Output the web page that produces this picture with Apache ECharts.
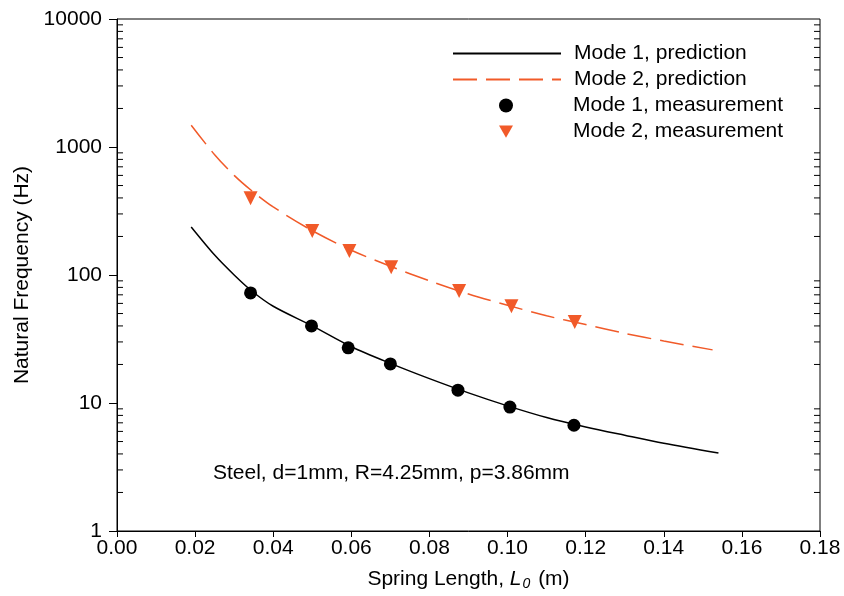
<!DOCTYPE html>
<html>
<head>
<meta charset="utf-8">
<script src="https://cdn.jsdelivr.net/npm/echarts@6/dist/echarts.min.js"></script>
<style>
  html, body { margin: 0; padding: 0; background: #fff; }
  #chart { width: 844px; height: 596px; }
</style>
</head>
<body>
<div id="chart"></div>
<script>
// spring length (m) for the prediction curves
var predLength1 = [0.019, 0.025, 0.03, 0.0345, 0.04, 0.05, 0.06, 0.07, 0.08, 0.09, 0.10, 0.11, 0.12, 0.13, 0.14, 0.154];
var predMode1 = [237, 143, 100, 75, 57, 40, 27.5, 20.4, 15.5, 12.0, 9.5, 7.7, 6.5, 5.6, 4.85, 4.07];
var predLength2 = [0.019, 0.025, 0.03, 0.0345, 0.04, 0.05, 0.06, 0.07, 0.08, 0.09, 0.10, 0.11, 0.12, 0.13, 0.14, 0.1525];
var predMode2 = [1480, 870, 600, 455, 340, 222, 156, 117, 90, 71, 58, 48, 41, 35, 30.5, 26];

// measurements
var measLength1 = [0.0342, 0.0498, 0.0592, 0.0700, 0.0873, 0.1006, 0.1170];
var measMode1 = [72.5, 40, 27, 20.2, 12.6, 9.3, 6.7];
var measLength2 = [0.0342, 0.0500, 0.0595, 0.0702, 0.0876, 0.1010, 0.1172];
var measMode2 = [398, 221, 154, 115, 75, 57, 43];

var xMin = 0, xMax = 0.18;
var minorVals = [];
[1, 10, 100, 1000].forEach(function (d) {
  for (var k = 2; k <= 9; k++) minorVals.push(k * d);
});

function pairs(xs, ys) {
  return xs.map(function (x, i) { return [x, ys[i]]; });
}

var font = "'Liberation Sans', Arial, sans-serif";
var fs = 21;
var orange = '#f15a29';
var hideSym = { color: 'rgba(0,0,0,0)', borderWidth: 0 };

var chart = echarts.init(document.getElementById('chart'));
chart.setOption({
  animation: false,
  textStyle: { fontFamily: font },
  grid: {
    left: 117, right: 24, top: 19, bottom: 65,
    show: true, borderColor: '#000', borderWidth: 1, backgroundColor: 'transparent'
  },
  legend: [{
    orient: 'vertical',
    left: 447, top: 38,
    itemWidth: 108, itemHeight: 14, itemGap: 5,
    data: [
      { name: 'Mode 1, prediction', itemStyle: hideSym },
      { name: 'Mode 2, prediction', itemStyle: hideSym }
    ],
    textStyle: { fontSize: fs, color: '#000', fontFamily: font, padding: [0, 0, 0, 8] }
  }, {
    orient: 'vertical',
    left: 494, top: 90,
    itemWidth: 14, itemHeight: 14, itemGap: 5,
    data: [
      { name: 'Mode 1, measurement', icon: 'circle' },
      { name: 'Mode 2, measurement', icon: 'path://M0,0 L2,0 L1,1.75 Z' }
    ],
    textStyle: { fontSize: fs, color: '#000', fontFamily: font, padding: [0, 0, 0, 55] }
  }],
  xAxis: {
    type: 'value', min: xMin, max: xMax, interval: 0.02,
    name: '{a|Spring Length, }{i|L}{s|0}{a| (m)}',
    nameLocation: 'middle', nameGap: 36,
    nameTextStyle: {
      rich: {
        a: { fontSize: fs, color: '#000', fontFamily: font },
        i: { fontSize: fs, color: '#000', fontFamily: font, fontStyle: 'italic' },
        s: { fontSize: 14, color: '#000', fontFamily: font, fontStyle: 'italic', verticalAlign: 'bottom', padding: [10, 2, 0, 1] }
      }
    },
    axisLine: { lineStyle: { color: '#000', width: 1 } },
    axisTick: { inside: false, length: 6, lineStyle: { color: '#000' } },
    axisLabel: { fontSize: fs, color: '#000', margin: 7, formatter: function (v) { return v.toFixed(2); } },
    splitLine: { show: false }
  },
  yAxis: {
    type: 'log', logBase: 10, min: 1, max: 10000,
    name: 'Natural Frequency (Hz)',
    nameLocation: 'middle', nameGap: 82, nameRotate: 90,
    nameTextStyle: { fontSize: fs, color: '#000' },
    axisLine: { lineStyle: { color: '#000', width: 1 } },
    axisTick: { inside: false, length: 8, lineStyle: { color: '#000' } },
    axisLabel: { fontSize: fs, color: '#000', margin: 15, formatter: function (v) { return String(Math.round(v)); } },
    splitLine: { show: false }
  },
  graphic: [{
    type: 'text', left: 213, top: 463,
    style: { text: 'Steel, d=1mm, R=4.25mm, p=3.86mm', fontSize: fs, fill: '#000', fontFamily: font }
  }],
  series: [
    {
      name: 'Mode 1, prediction', type: 'line', data: pairs(predLength1, predMode1),
      symbol: 'none', smooth: 0.3, lineStyle: { color: '#000', width: 1.5 }, itemStyle: { color: '#000' }
    },
    {
      name: 'Mode 2, prediction', type: 'line', data: pairs(predLength2, predMode2),
      symbol: 'none', smooth: 0.3, lineStyle: { color: orange, width: 1.5, type: [24, 9] }, itemStyle: { color: orange }
    },
    {
      name: 'Mode 1, measurement', type: 'scatter', data: pairs(measLength1, measMode1),
      symbol: 'circle', symbolSize: 13, itemStyle: { color: '#000', opacity: 1 }
    },
    {
      name: 'Mode 2, measurement', type: 'scatter', data: pairs(measLength2, measMode2),
      symbol: 'triangle', symbolRotate: 180, symbolSize: 14, itemStyle: { color: orange, opacity: 1 }
    },
    {
      // log minor ticks, inside on left and right frame
      type: 'custom', silent: true, clip: false,
      data: minorVals.map(function (v) { return [xMin, v]; }),
      renderItem: function (params, api) {
        var v = api.value(1);
        var pl = api.coord([xMin, v]);
        var pr = api.coord([xMax, v]);
        return {
          type: 'group',
          children: [
            { type: 'line', shape: { x1: pl[0], y1: pl[1], x2: pl[0] + 6, y2: pl[1] }, style: { stroke: '#000', lineWidth: 1 } },
            { type: 'line', shape: { x1: pr[0], y1: pr[1], x2: pr[0] - 6, y2: pr[1] }, style: { stroke: '#000', lineWidth: 1 } }
          ]
        };
      }
    }
  ]
});
</script>
</body>
</html>
